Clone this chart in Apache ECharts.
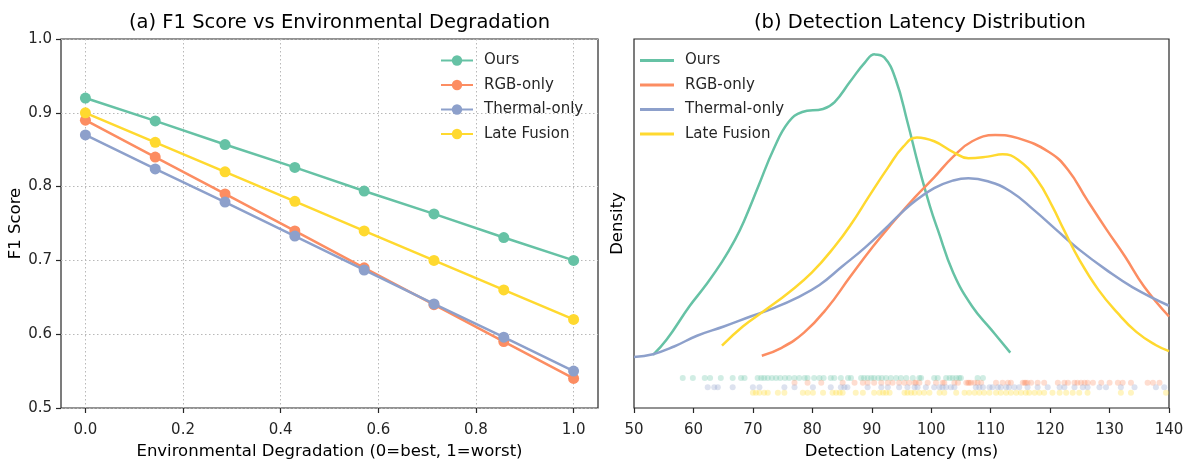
<!DOCTYPE html>
<html>
<head>
<meta charset="utf-8">
<script src="https://cdn.jsdelivr.net/npm/echarts@6/dist/echarts.min.js"></script>
<style>
  html, body { margin: 0; padding: 0; background: #ffffff; }
  #chart { width: 1190px; height: 461px; }
</style>
</head>
<body>
<div id="chart"></div>
<script>
// ---------- Data: panel (a) ----------
const methodNames = ['Ours', 'RGB-only', 'Thermal-only', 'Late Fusion'];
const degradation = [0, 0.143, 0.286, 0.429, 0.571, 0.714, 0.857, 1.0];
const f1Ours    = [0.92, 0.889, 0.857, 0.826, 0.794, 0.763, 0.731, 0.70];
const f1RGB     = [0.89, 0.84, 0.79, 0.74, 0.69, 0.64, 0.59, 0.54];
const f1Thermal = [0.87, 0.824, 0.779, 0.733, 0.687, 0.641, 0.596, 0.55];
const f1Late    = [0.90, 0.86, 0.82, 0.78, 0.74, 0.70, 0.66, 0.62];
const xTickValues = [0.0, 0.2, 0.4, 0.6, 0.8, 1.0];
const yTickValues = [0.5, 0.6, 0.7, 0.8, 0.9, 1.0];

// ---------- Data: panel (b) KDE curves ----------
const kdeOursX = [53.2, 55.5, 59.3, 61.9, 64.8, 67.0, 68.5, 70.9, 73.5, 76.0, 78.3, 81.8, 83.75, 86.3, 88.9, 90.5, 92.1, 94.0, 96.0, 97.9, 99.8, 101.1, 103.7, 106.9, 110.1, 113.3];
const kdeOursY = [0.0009, 0.0029, 0.0072, 0.0098, 0.0130, 0.0159, 0.0183, 0.0228, 0.0277, 0.0312, 0.0325, 0.0329, 0.0338, 0.0364, 0.0390, 0.0400, 0.0396, 0.0368, 0.0312, 0.0254, 0.0202, 0.0172, 0.0116, 0.0072, 0.0042, 0.0012];
const kdeRGBX = [71.5, 74.75, 78.6, 82.5, 86.3, 90.2, 93.4, 97.25, 100.5, 103.7, 106.9, 110.75, 114.6, 119.8, 123.0, 126.2, 129.5, 132.6, 135.8, 140];
const kdeRGBY = [0.0008, 0.0018, 0.0038, 0.0070, 0.0110, 0.0150, 0.0180, 0.0214, 0.0240, 0.0267, 0.0287, 0.0295, 0.0291, 0.0273, 0.0250, 0.0211, 0.0172, 0.0137, 0.0098, 0.0059];
const kdeThermalX = [50, 53.2, 56.75, 60.6, 65.1, 69.6, 73.5, 77.3, 81.2, 85.0, 88.9, 92.75, 96.6, 100.5, 103.7, 106.25, 109.5, 113.3, 117.2, 121.0, 124.9, 129.4, 133.9, 140];
const kdeThermalY = [0.00065, 0.0010, 0.0020, 0.0034, 0.0046, 0.0059, 0.0070, 0.0083, 0.0100, 0.0124, 0.0149, 0.0177, 0.0205, 0.0226, 0.0236, 0.0239, 0.0235, 0.0222, 0.0198, 0.0172, 0.0146, 0.0120, 0.0097, 0.0073];
const kdeLateX = [64.8, 68.3, 72.2, 76.0, 79.9, 83.75, 86.6, 89.5, 92.75, 95.3, 97.6, 100.5, 103.7, 106.25, 109.5, 112.0, 114.6, 117.8, 120.4, 122.3, 124.9, 128.1, 131.3, 134.5, 137.75, 140];
const kdeLateY = [0.0021, 0.0046, 0.0068, 0.0090, 0.0116, 0.0150, 0.0180, 0.0215, 0.0253, 0.0280, 0.0292, 0.0287, 0.0273, 0.0265, 0.0267, 0.0270, 0.0263, 0.0237, 0.0202, 0.0172, 0.0133, 0.0094, 0.0064, 0.0039, 0.0022, 0.0014];

// ---------- Data: panel (b) rug samples (ms) ----------
const rugOurs = [58.2, 59.9, 61.9, 62.8, 64.6, 66.6, 68.0, 68.6, 70.8, 71.4, 71.9, 72.5, 73.2, 73.9, 74.6, 75.4, 76.1, 77.0, 77.8, 78.7, 79.2, 80.3, 81.2, 81.9, 83.1, 83.7, 84.8, 86.0, 86.5, 88.2, 88.7, 89.3, 89.9, 90.4, 91.1, 91.7, 92.4, 93.2, 94.1, 94.9, 95.8, 96.9, 98.0, 98.3, 100.5, 101.1, 102.5, 103.1, 103.6, 104.2, 104.7, 105.0, 107.8, 108.7];
const rugRGB = [77.0, 79.2, 81.5, 85.1, 87.1, 88.5, 89.3, 90.4, 91.6, 92.7, 93.5, 94.6, 95.5, 96.3, 97.2, 97.4, 98.0, 99.4, 100.8, 101.9, 102.2, 103.9, 104.5, 105.9, 106.2, 106.4, 106.7, 107.3, 107.8, 108.4, 110.9, 112.0, 112.9, 113.4, 115.4, 115.7, 115.9, 116.2, 116.8, 117.9, 119.0, 121.3, 122.4, 123.0, 124.1, 124.6, 125.2, 125.8, 126.3, 127.2, 128.6, 130.0, 131.4, 132.2, 133.6, 136.4, 137.3, 138.4];
const rugThermal = [62.4, 63.5, 64.1, 66.6, 70.0, 71.1, 75.3, 77.0, 80.1, 83.1, 84.8, 85.4, 85.9, 89.3, 91.6, 92.7, 94.6, 96.0, 97.2, 97.7, 99.1, 100.5, 101.4, 101.9, 102.5, 103.3, 103.9, 107.5, 108.1, 108.7, 109.8, 110.3, 111.2, 111.7, 112.6, 113.1, 114.0, 114.8, 116.2, 117.9, 119.6, 121.6, 122.4, 124.1, 125.5, 126.3, 128.3, 129.4, 131.9, 134.2, 137.8, 139.2];
const rugLate = [70.0, 70.5, 71.1, 71.9, 72.5, 74.2, 75.3, 78.4, 79.2, 80.1, 81.8, 83.4, 84.0, 84.6, 85.1, 87.3, 88.5, 90.4, 91.3, 91.9, 92.4, 93.0, 95.5, 96.0, 96.6, 97.2, 98.0, 98.8, 99.7, 101.4, 102.2, 104.2, 105.6, 106.4, 107.3, 108.1, 108.9, 109.8, 110.9, 111.7, 112.6, 113.4, 114.3, 115.1, 115.9, 116.5, 117.4, 118.2, 119.0, 120.4, 121.6, 122.7, 123.8, 124.9, 126.3, 131.9, 133.6, 139.5];
const rugLevels = [-0.0021, -0.0027, -0.0033, -0.0040];
const latencyTicks = [50, 60, 70, 80, 90, 100, 110, 120, 130, 140];

// ---------- Styling ----------
const colors = ['#66c2a5', '#fc8d62', '#8da0cb', '#ffd92f'];
const FONT = 'DejaVu Sans';
const INK = '#262626';

const f1Sets = [f1Ours, f1RGB, f1Thermal, f1Late];
const kdeX = [kdeOursX, kdeRGBX, kdeThermalX, kdeLateX];
const kdeY = [kdeOursY, kdeRGBY, kdeThermalY, kdeLateY];
const rugSets = [rugOurs, rugRGB, rugThermal, rugLate];
const kdeSuffix = ' \u00b7kde';

const series = [];
f1Sets.forEach((vals, i) => {
  series.push({
    name: methodNames[i], type: 'line', xAxisIndex: 0, yAxisIndex: 0,
    data: degradation.map((x, k) => [x, vals[k]]),
    symbol: 'circle', symbolSize: 11, showSymbol: true,
    lineStyle: { width: 2.5, color: colors[i] },
    itemStyle: { color: colors[i] },
    z: 3 + i, animation: false
  });
});
rugSets.forEach((vals, i) => {
  series.push({
    name: 'rug' + i, type: 'scatter', xAxisIndex: 2, yAxisIndex: 2,
    data: vals.map(v => [v, rugLevels[i]]),
    symbol: 'circle', symbolSize: 6,
    itemStyle: { color: colors[i], opacity: 0.3 },
    z: 2, animation: false, silent: true
  });
});
kdeX.forEach((xs, i) => {
  series.push({
    name: methodNames[i] + kdeSuffix, type: 'line', xAxisIndex: 2, yAxisIndex: 2,
    data: xs.map((x, k) => [x, kdeY[i][k]]),
    symbol: 'none', smooth: 0.45,
    lineStyle: { width: 2.5, color: colors[i] },
    itemStyle: { color: colors[i] },
    z: 3 + i, animation: false, clip: true
  });
});

const axisNameStyle = { fontFamily: FONT, fontSize: 16.5, color: '#000' };
const tickLabelStyle = { fontFamily: FONT, fontSize: 15, color: INK };
const tickStyle = { show: true, length: 5, lineStyle: { color: INK, width: 1.2 } };
const gridLine = { show: true, lineStyle: { color: '#b8b8b8', type: [1.5, 2.5], width: 1 } };

const option = {
  animation: false,
  backgroundColor: '#ffffff',
  textStyle: { fontFamily: FONT },
  title: [
    { text: '(a) F1 Score vs Environmental Degradation', left: 129, top: 12.5, padding: 0,
      textStyle: { fontFamily: FONT, fontSize: 19.5, fontWeight: 'normal', color: '#000' } },
    { text: '(b) Detection Latency Distribution', left: 754, top: 12.5, padding: 0,
      textStyle: { fontFamily: FONT, fontSize: 19.5, fontWeight: 'normal', color: '#000' } }
  ],
  legend: [
    { data: methodNames, orient: 'vertical', left: 440, top: 53, padding: 0,
      itemWidth: 32, itemHeight: 13, itemGap: 9.5,
      textStyle: { fontFamily: FONT, fontSize: 15, color: INK, lineHeight: 15, padding: [0, 0, 0, 6] } },
    { data: methodNames.map(n => ({ name: n + kdeSuffix, icon: 'rect' })), orient: 'vertical', left: 640, top: 53, padding: 0,
      itemWidth: 34, itemHeight: 3, itemGap: 9.5,
      formatter: n => n.replace(kdeSuffix, ''),
      textStyle: { fontFamily: FONT, fontSize: 15, color: INK, lineHeight: 15, padding: [0, 0, 0, 6] } }
  ],
  grid: [
    { left: 61, top: 39, width: 537, height: 369, show: true, borderColor: INK, borderWidth: 1.2, backgroundColor: 'transparent', outerBoundsMode: 'none', containLabel: false },
    { left: 85.4, top: 39, width: 488.2, height: 369, show: false, outerBoundsMode: 'none', containLabel: false },
    { left: 634, top: 39, width: 535, height: 369, show: true, borderColor: INK, borderWidth: 1.2, backgroundColor: 'transparent', outerBoundsMode: 'none', containLabel: false }
  ],
  xAxis: [
    { type: 'value', gridIndex: 0, min: -0.05, max: 1.05,
      axisLine: { show: false, onZero: false }, axisTick: { show: false }, axisLabel: { show: false }, splitLine: { show: false },
      name: 'Environmental Degradation (0=best, 1=worst)', nameLocation: 'middle', nameGap: 35, nameTextStyle: axisNameStyle },
    { type: 'value', gridIndex: 1, min: xTickValues[0], max: xTickValues[xTickValues.length - 1], interval: 0.2,
      axisLine: { show: false, onZero: false },
      axisTick: tickStyle,
      axisLabel: { show: true, margin: 15, formatter: v => v.toFixed(1), ...tickLabelStyle },
      splitLine: gridLine },
    { type: 'value', gridIndex: 2, min: latencyTicks[0], max: latencyTicks[latencyTicks.length - 1], interval: 10,
      axisLine: { show: false, onZero: false },
      axisTick: tickStyle,
      axisLabel: { show: true, margin: 15, ...tickLabelStyle },
      splitLine: { show: false },
      name: 'Detection Latency (ms)', nameLocation: 'middle', nameGap: 35, nameTextStyle: axisNameStyle }
  ],
  yAxis: [
    { type: 'value', gridIndex: 0, min: yTickValues[0], max: yTickValues[yTickValues.length - 1], interval: 0.1,
      axisLine: { show: false, onZero: false },
      axisTick: tickStyle,
      axisLabel: { show: true, margin: 9, formatter: v => v.toFixed(1), ...tickLabelStyle },
      splitLine: gridLine,
      name: 'F1 Score', nameLocation: 'middle', nameGap: 37, nameRotate: 90, nameTextStyle: axisNameStyle },
    { type: 'value', gridIndex: 1, min: 0, max: 1, show: false, axisLine: { onZero: false } },
    { type: 'value', gridIndex: 2, min: -0.006, max: 0.042,
      axisLine: { show: false, onZero: false }, axisTick: { show: false }, axisLabel: { show: false }, splitLine: { show: false },
      name: 'Density', nameLocation: 'middle', nameGap: 8, nameRotate: 90, nameTextStyle: axisNameStyle }
  ],
  series: series
};

const chart = echarts.init(document.getElementById('chart'), null, { renderer: 'canvas' });
chart.setOption(option);
</script>
</body>
</html>
